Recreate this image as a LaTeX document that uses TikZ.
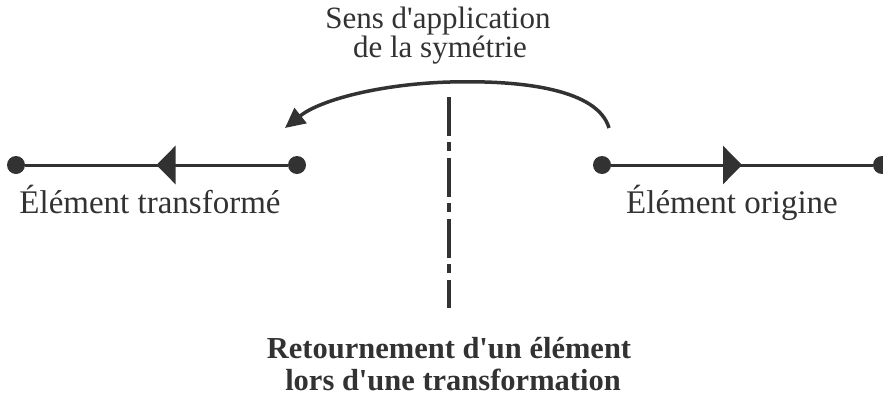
\documentclass[tikz,border=0pt]{standalone}
\usepackage{fontspec}
\setmainfont{Liberation Serif}
\usetikzlibrary{arrows.meta,decorations.markings}
\definecolor{ink}{RGB}{50,50,50}
\tikzset{
  dot/.style={circle,fill=ink,inner sep=0pt,minimum size=18pt},
  seg/.style={draw=ink,line width=3pt,postaction={decorate},
    decoration={markings,mark=at position 0.5 with {\arrow{Triangle[length=19pt,width=38pt]}}}},
  lbl/.style={text=ink,font=\fontsize{31}{31}\selectfont,anchor=base,inner sep=0pt},
  elbl/.style={lbl,font=\fontsize{33}{33}\selectfont},
  ttl/.style={text=ink,font=\fontsize{30.5}{30.5}\selectfont\bfseries,anchor=base,inner sep=0pt},
  axisline/.style={draw=ink,line width=3.5pt,dash pattern=on 39pt off 6pt on 9pt off 7pt},
  sens/.style={draw=ink,line width=3.5pt,-{Triangle[length=20pt,width=19pt]}}
}
\begin{document}
\begin{tikzpicture}[x=1pt,y=-1pt]
\useasboundingbox (0,0) rectangle (883,399);
% text
\node[lbl] (s1) at (438,28) {Sens d\textquotesingle application};
\node[lbl] (s2) at (440,57) {de la symétrie};
\node[elbl] (lt) at (150,213) {Élément transformé};
\node[elbl] (lo) at (732,213) {Élément origine};
\node[ttl] (t1) at (449,358) {Retournement d\textquotesingle un élément};
\node[ttl] (t2) at (453,390) {lors d\textquotesingle une transformation};
% axis
\coordinate (ax1) at (449,97);
\coordinate (ax2) at (449,308);
\draw[axisline] (ax1) -- (ax2);
% segments
\node[dot] (ta) at (16,165) {};
\node[dot] (tb) at (297,165) {};
\node[dot] (oa) at (602,165) {};
\node[dot] (ob) at (882,165) {};
\draw[seg] (tb) -- (ta);
\draw[seg] (oa) -- (ob);
% sens arrow
\coordinate (c1) at (609,128);
\coordinate (c2) at (285,128);
\draw[sens] (c1) .. controls (598,90) and (525,80) .. (450,82)
  .. controls (380,84) and (320,100) .. (c2);
\end{tikzpicture}
\end{document}
